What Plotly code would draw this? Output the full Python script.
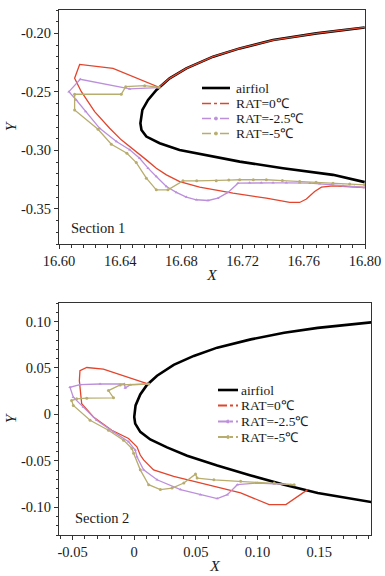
import plotly.graph_objects as go

# ---------------- Section 1 data ----------------
s1_airfoil_x = [16.7998, 16.7682, 16.7399, 16.7181, 16.7007, 16.6832, 16.6723, 16.6637, 16.6582, 16.6545,
                16.6532, 16.6539, 16.6571, 16.6658, 16.6788, 16.6963, 16.7181, 16.7464, 16.7791, 16.7998]
s1_airfoil_y = [-0.1949, -0.2000, -0.2057, -0.2128, -0.2199, -0.2299, -0.2384, -0.2484, -0.2569, -0.2654,
                -0.2768, -0.2825, -0.2882, -0.2939, -0.2996, -0.3038, -0.3096, -0.3152, -0.3209, -0.3271]

s1_rat0_x = [16.7998, 16.7682, 16.7399, 16.7181, 16.7007, 16.6832, 16.6723, 16.6654, 16.6353, 16.6135,
             16.6102, 16.6146, 16.6233, 16.6331, 16.6407, 16.6505, 16.6571, 16.6636, 16.6702, 16.6789,
             16.6919, 16.7137, 16.7355, 16.7508, 16.7573, 16.7617, 16.7671, 16.7715, 16.7791, 16.7998]
s1_rat0_y = [-0.1949, -0.2000, -0.2057, -0.2128, -0.2199, -0.2299, -0.2384, -0.2461, -0.2299, -0.2265,
             -0.2384, -0.2498, -0.2668, -0.2811, -0.2910, -0.3010, -0.3081, -0.3152, -0.3209, -0.3266,
             -0.3314, -0.3365, -0.3408, -0.3445, -0.3445, -0.3416, -0.3351, -0.3314, -0.3303, -0.3317]

s1_rat25_x = [16.6647, 16.6462, 16.6139, 16.6065, 16.6113, 16.6174, 16.6266, 16.6375, 16.6462, 16.6527,
              16.6582, 16.6636, 16.6702, 16.6767, 16.6832, 16.6898, 16.6974, 16.7039, 16.7105, 16.7170,
              16.7246, 16.7322, 16.7399, 16.7486, 16.7573, 16.7640, 16.7704, 16.7780, 16.7856, 16.7930, 16.7998]
s1_rat25_y = [-0.2464, -0.2475, -0.2392, -0.2498, -0.2569, -0.2668, -0.2811, -0.2924, -0.2995, -0.3067,
              -0.3152, -0.3223, -0.3308, -0.3359, -0.3399, -0.3422, -0.3428, -0.3408, -0.3359, -0.3280,
              -0.3277, -0.3277, -0.3277, -0.3277, -0.3277, -0.3280, -0.3286, -0.3294, -0.3303, -0.3310, -0.3317]

s1_rat5_x = [16.6654, 16.6560, 16.6436, 16.6407, 16.6102, 16.6102, 16.6255, 16.6342, 16.6444, 16.6505,
             16.6571, 16.6636, 16.6712, 16.6810, 16.6900, 16.7028, 16.7110, 16.7181, 16.7270, 16.7355,
             16.7460, 16.7573, 16.7680, 16.7791, 16.7900, 16.7998]
s1_rat5_y = [-0.2461, -0.2447, -0.2455, -0.2520, -0.2520, -0.2654, -0.2819, -0.2947, -0.3024, -0.3104,
             -0.3237, -0.3337, -0.3337, -0.3260, -0.3260, -0.3260, -0.3254, -0.3251, -0.3251, -0.3251,
             -0.3258, -0.3266, -0.3273, -0.3280, -0.3288, -0.3294]

# ---------------- Section 2 data ----------------
s2_airfoil_x = [0.1930, 0.1488, 0.1216, 0.0945, 0.0673, 0.0483, 0.0320, 0.0185, 0.0103, 0.0049, 0.0011,
                0.0000, 0.0008, 0.0049, 0.0130, 0.0266, 0.0429, 0.0673, 0.0945, 0.1216, 0.1488, 0.1759, 0.1930]
s2_airfoil_y = [0.0993, 0.0932, 0.0879, 0.0808, 0.0719, 0.0630, 0.0534, 0.0416, 0.0317, 0.0214, 0.0096,
                -0.0028, -0.0100, -0.0189, -0.0270, -0.0356, -0.0445, -0.0552, -0.0658, -0.0758, -0.0847, -0.0911, -0.0947]

s2_rat0_x = [0.0117, -0.0114, -0.0250, -0.0385, -0.0440, -0.0445, -0.0426, -0.0331, -0.0182, -0.0046,
             0.0022, 0.0049, 0.0076, 0.0157, 0.0320, 0.0592, 0.0863, 0.1094, 0.1230, 0.1406]
s2_rat0_y = [0.0327, 0.0427, 0.0488, 0.0505, 0.0470, 0.0363, 0.0114, -0.0028, -0.0171, -0.0260,
             -0.0349, -0.0438, -0.0491, -0.0598, -0.0669, -0.0758, -0.0847, -0.0972, -0.0972, -0.0811]

s2_rat25_x = [0.0117, -0.0033, -0.0073, -0.0080, -0.0277, -0.0440, -0.0521, -0.0494, -0.0413, -0.0304,
              -0.0168, -0.0046, 0.0008, 0.0022, 0.0076, 0.0185, 0.0375, 0.0537, 0.0673, 0.0755, 0.0836,
              0.0999, 0.1135, 0.1270]
s2_rat25_y = [0.0327, 0.0317, 0.0285, 0.0327, 0.0327, 0.0320, 0.0292, 0.0185, 0.0078, -0.0064,
              -0.0189, -0.0295, -0.0384, -0.0456, -0.0598, -0.0705, -0.0811, -0.0865, -0.0907, -0.0865, -0.0758,
              -0.0740, -0.0749, -0.0758]

s2_rat5_x = [0.0117, -0.0114, -0.0209, -0.0168, -0.0385, -0.0467, -0.0508, -0.0494, -0.0358, -0.0209,
             -0.0087, -0.0019, -0.0005, 0.0049, 0.0117, 0.0212, 0.0307, 0.0402, 0.0497, 0.0510, 0.0646,
             0.0863, 0.1135, 0.1297]
s2_rat5_y = [0.0327, 0.0317, 0.0256, 0.0178, 0.0174, 0.0167, 0.0149, 0.0096, -0.0064, -0.0171,
             -0.0278, -0.0367, -0.0420, -0.0598, -0.0758, -0.0811, -0.0794, -0.0740, -0.0644, -0.0687, -0.0705,
             -0.0722, -0.0740, -0.0758]

# ---------------- ticks / labels ----------------
s1_xticks = [16.60, 16.64, 16.68, 16.72, 16.76, 16.80]
s1_xlabels = ["16.60", "16.64", "16.68", "16.72", "16.76", "16.80"]
s1_yticks = [-0.35, -0.30, -0.25, -0.20]
s1_ylabels = ["-0.35", "-0.30", "-0.25", "-0.20"]
s2_xticks = [-0.05, 0, 0.05, 0.10, 0.15]
s2_xlabels = ["-0.05", "0", "0.05", "0.10", "0.15"]
s2_yticks = [-0.10, -0.05, 0, 0.05, 0.10]
s2_ylabels = ["-0.10", "-0.05", "0", "0.05", "0.10"]

legend_names = ["airfiol", "RAT=0℃", "RAT=-2.5℃", "RAT=-5℃"]
colors = ["#000000", "#E2452C", "#BC8FDB", "#B8AD6E"]
markers = [None, None, "triangle-up", "circle"]

FONT = "Liberation Serif"
FS = 14.5
LFS = 13.5
W, H = 385, 576

fig = go.Figure()


def add_section(xa, ya, airfoil, curves):
    ax_x, ax_y = airfoil
    fig.add_trace(go.Scatter(x=ax_x, y=ax_y, mode="lines", name=legend_names[0],
                             line=dict(color=colors[0], width=2.6),
                             xaxis=xa, yaxis=ya, showlegend=False, hoverinfo="skip"))
    for (cx, cy), name, col, mk in zip(curves, legend_names[1:], colors[1:], markers[1:]):
        fig.add_trace(go.Scatter(x=cx, y=cy, mode="lines+markers" if mk else "lines", name=name,
                                 line=dict(color=col, width=1.3),
                                 marker=dict(symbol=mk or "circle", size=3, color=col),
                                 xaxis=xa, yaxis=ya, showlegend=False, hoverinfo="skip"))


add_section("x", "y", (s1_airfoil_x, s1_airfoil_y),
            [(s1_rat0_x, s1_rat0_y), (s1_rat25_x, s1_rat25_y), (s1_rat5_x, s1_rat5_y)])
add_section("x2", "y2", (s2_airfoil_x, s2_airfoil_y),
            [(s2_rat0_x, s2_rat0_y), (s2_rat25_x, s2_rat25_y), (s2_rat5_x, s2_rat5_y)])

# ---------------- hand-drawn legends (pixel layout) ----------------
shapes, annotations = [], []


def legend_block(x0, x1, xt, rows, lw):
    for name, col, mk, yy in zip(legend_names, colors, markers, rows):
        yp = 1 - yy / H
        shapes.append(dict(type="line", xref="paper", yref="paper", x0=x0 / W, x1=x1 / W, y0=yp, y1=yp,
                           line=dict(color=col, width=2.6 if name == "airfiol" else lw,
                                     dash="solid" if name == "airfiol" else "dashdot")))
        if mk:
            xm = (x0 + x1) / 2
            shapes.append(dict(type="circle", xref="paper", yref="paper", x0=(xm - 1.5) / W, x1=(xm + 1.5) / W,
                               y0=yp - 1.5 / H, y1=yp + 1.5 / H, line=dict(color=col, width=0.8), fillcolor=col))
        annotations.append(dict(text=name, xref="paper", yref="paper", x=xt / W, y=yp, xanchor="left",
                                yanchor="middle", showarrow=False, borderpad=0,
                                font=dict(family=FONT, size=LFS, color="#1a1a1a")))


legend_block(202, 230, 235, [88, 103.5, 118.5, 133.5], 1.3)
legend_block(218, 238, 240, [390, 405.5, 421.5, 437], 2.0)

annotations += [
    dict(text="Section 1", xref="paper", yref="paper", x=69 / W, y=1 - 228 / H, xanchor="left", yanchor="middle",
         showarrow=False, font=dict(family=FONT, size=FS, color="#1a1a1a")),
    dict(text="Section 2", xref="paper", yref="paper", x=73 / W, y=1 - 518 / H, xanchor="left", yanchor="middle",
         showarrow=False, font=dict(family=FONT, size=FS, color="#1a1a1a")),
]

tickfont = dict(family=FONT, size=FS, color="#1a1a1a")
titlefont = dict(family=FONT, size=FS + 1, color="#1a1a1a")
common = dict(showline=True, linecolor="#333", linewidth=1, mirror=True, ticks="outside",
              ticklen=4, tickcolor="#333", showgrid=False, zeroline=False, tickfont=tickfont,
              tickmode="array", automargin=False)
minor_style = dict(ticklen=2.5, tickcolor="#333", ticks="outside")

fig.update_layout(
    width=W, height=H, margin=dict(l=0, r=0, t=0, b=0),
    paper_bgcolor="white", plot_bgcolor="white", showlegend=False,
    xaxis=dict(domain=[59 / W, 365 / W], range=[16.60, 16.80], tickvals=s1_xticks, ticktext=s1_xlabels,
               anchor="y", minor=dict(dtick=0.008, tick0=16.60, **minor_style),
               title=dict(text="<i>X</i>", font=titlefont, standoff=0), **common),
    yaxis=dict(domain=[1 - 244 / H, 1 - 10 / H], range=[-0.38, -0.18], tickvals=s1_yticks, ticktext=s1_ylabels,
               anchor="x", minor=dict(dtick=0.01, tick0=-0.20, **minor_style),
               title=dict(text="<i>Y</i>", font=titlefont, standoff=0), **common),
    xaxis2=dict(domain=[59 / W, 371 / W], range=[-0.061, 0.192], tickvals=s2_xticks, ticktext=s2_xlabels,
                anchor="y2", minor=dict(dtick=0.01, tick0=0, **minor_style),
                title=dict(text="<i>X</i>", font=titlefont, standoff=0), **common),
    yaxis2=dict(domain=[1 - 535 / H, 1 - 303 / H], range=[-0.13, 0.12], tickvals=s2_yticks, ticktext=s2_ylabels,
                anchor="x2", minor=dict(dtick=0.01, tick0=0, **minor_style),
                title=dict(text="<i>Y</i>", font=titlefont, standoff=0), **common),
    shapes=shapes,
    annotations=annotations,
)

fig.write_html("out.html", config={"displayModeBar": False},
               post_script="document.body.style.margin='0';document.body.style.padding='0';")
